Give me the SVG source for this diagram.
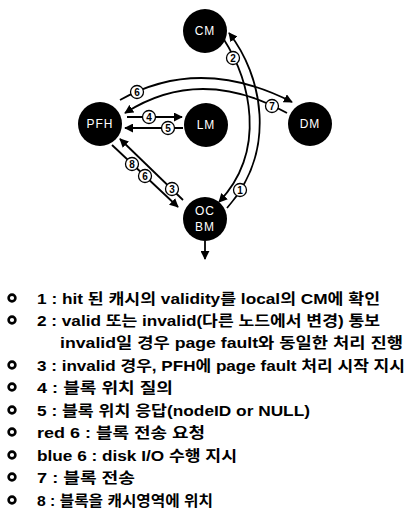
<svg xmlns="http://www.w3.org/2000/svg" width="408" height="526" viewBox="0 0 408 526">
<defs>
<marker id="ah" viewBox="0 0 10 10" refX="9" refY="5" markerWidth="5" markerHeight="5" orient="auto" markerUnits="strokeWidth">
<path d="M0,0 L10,5 L0,10 z" fill="#000"/>
</marker>
<style>
.node circle{fill:#000}
.node text{fill:#fff;font-family:"Liberation Sans",sans-serif;font-size:12px;text-anchor:middle;dominant-baseline:central;letter-spacing:1px}
.edge{fill:none;stroke:#000;stroke-width:1.8;marker-end:url(#ah)}
.lbl circle{fill:#fff;stroke:#000;stroke-width:1.3}
.lbl text{font-family:"Liberation Sans",sans-serif;font-size:10px;font-weight:bold;text-anchor:middle;dominant-baseline:central}
.leg text{font-family:"Liberation Sans","Noto Sans CJK KR",sans-serif;font-size:15px;font-weight:bold;dominant-baseline:central}
.leg circle{fill:#fff;stroke:#000;stroke-width:2.6}
</style>
</defs>
<rect width="408" height="526" fill="#fff"/>
<g id="connectors">
<path class="edge" d="M127,117 L182,117"/>
<path class="edge" d="M183,128 L125,128"/>
<path class="edge" d="M120,100 Q200,55 292,102"/>
<path class="edge" d="M287,113 Q200,65 125,113"/>
<path class="edge" d="M223,38 C250,80 268,150 219,202"/>
<path class="edge" d="M227,208 C278,150 262,75 229,33"/>
<path class="edge" d="M183,200 L120,139"/>
<path class="edge" d="M112,145 L178,207"/>
<path class="edge" d="M205,241 L205,259"/>
<g class="lbl">
<circle cx="149" cy="117" r="6.5"/><text x="149" y="117">4</text>
<circle cx="168" cy="128" r="6.5"/><text x="168" y="128">5</text>
<circle cx="137" cy="92" r="6.5"/><text x="137" y="92">6</text>
<circle cx="272" cy="106" r="6.5"/><text x="272" y="106">7</text>
<circle cx="233" cy="58" r="6.5"/><text x="233" y="58">2</text>
<circle cx="240" cy="190" r="6.5"/><text x="240" y="190">1</text>
<circle cx="172" cy="189" r="6.5"/><text x="172" y="189">3</text>
<circle cx="132" cy="164" r="6.5"/><text x="132" y="164">8</text>
<circle cx="145" cy="176" r="6.5"/><text x="145" y="176">6</text>
</g>
</g>
<g id="CM" class="node"><circle cx="205" cy="31" r="22"/><text x="205" y="31">CM</text></g>
<g id="PFH" class="node"><circle cx="100" cy="124" r="22"/><text x="100" y="124">PFH</text></g>
<g id="LM" class="node"><circle cx="206" cy="125" r="22"/><text x="206" y="125">LM</text></g>
<g id="DM" class="node"><circle cx="310" cy="124" r="22"/><text x="310" y="124">DM</text></g>
<g id="OCBM" class="node"><circle cx="205" cy="219" r="22"/><text x="205" y="211">OC</text><text x="205" y="227">BM</text></g>
<g id="legend" class="leg">
<circle cx="12" cy="298" r="3.4"/><text x="37" y="298" textLength="343" lengthAdjust="spacingAndGlyphs">1 : hit 된 캐시의 validity를 local의 CM에 확인</text>
<circle cx="12" cy="320" r="3.4"/><text x="37" y="320" textLength="343" lengthAdjust="spacingAndGlyphs">2 : valid 또는 invalid(다른 노드에서 변경) 통보</text>
<text x="60" y="342" textLength="343" lengthAdjust="spacingAndGlyphs">invalid일 경우 page fault와 동일한 처리 진행</text>
<circle cx="12" cy="365" r="3.4"/><text x="37" y="365" textLength="368" lengthAdjust="spacingAndGlyphs">3 : invalid 경우, PFH에 page fault 처리 시작 지시</text>
<circle cx="12" cy="387" r="3.4"/><text x="37" y="387" textLength="136" lengthAdjust="spacingAndGlyphs">4 : 블록 위치 질의</text>
<circle cx="12" cy="410" r="3.4"/><text x="37" y="410" textLength="273" lengthAdjust="spacingAndGlyphs">5 : 블록 위치 응답(nodeID or NULL)</text>
<circle cx="12" cy="432" r="3.4"/><text x="37" y="432" textLength="168" lengthAdjust="spacingAndGlyphs">red 6 : 블록 전송 요청</text>
<circle cx="12" cy="455" r="3.4"/><text x="37" y="455" textLength="200" lengthAdjust="spacingAndGlyphs">blue 6 : disk I/O 수행 지시</text>
<circle cx="12" cy="477" r="3.4"/><text x="37" y="477" textLength="98" lengthAdjust="spacingAndGlyphs">7 : 블록 전송</text>
<circle cx="12" cy="500" r="3.4"/><text x="37" y="500" textLength="176" lengthAdjust="spacingAndGlyphs">8 : 블록을 캐시영역에 위치</text>
</g>
</svg>
